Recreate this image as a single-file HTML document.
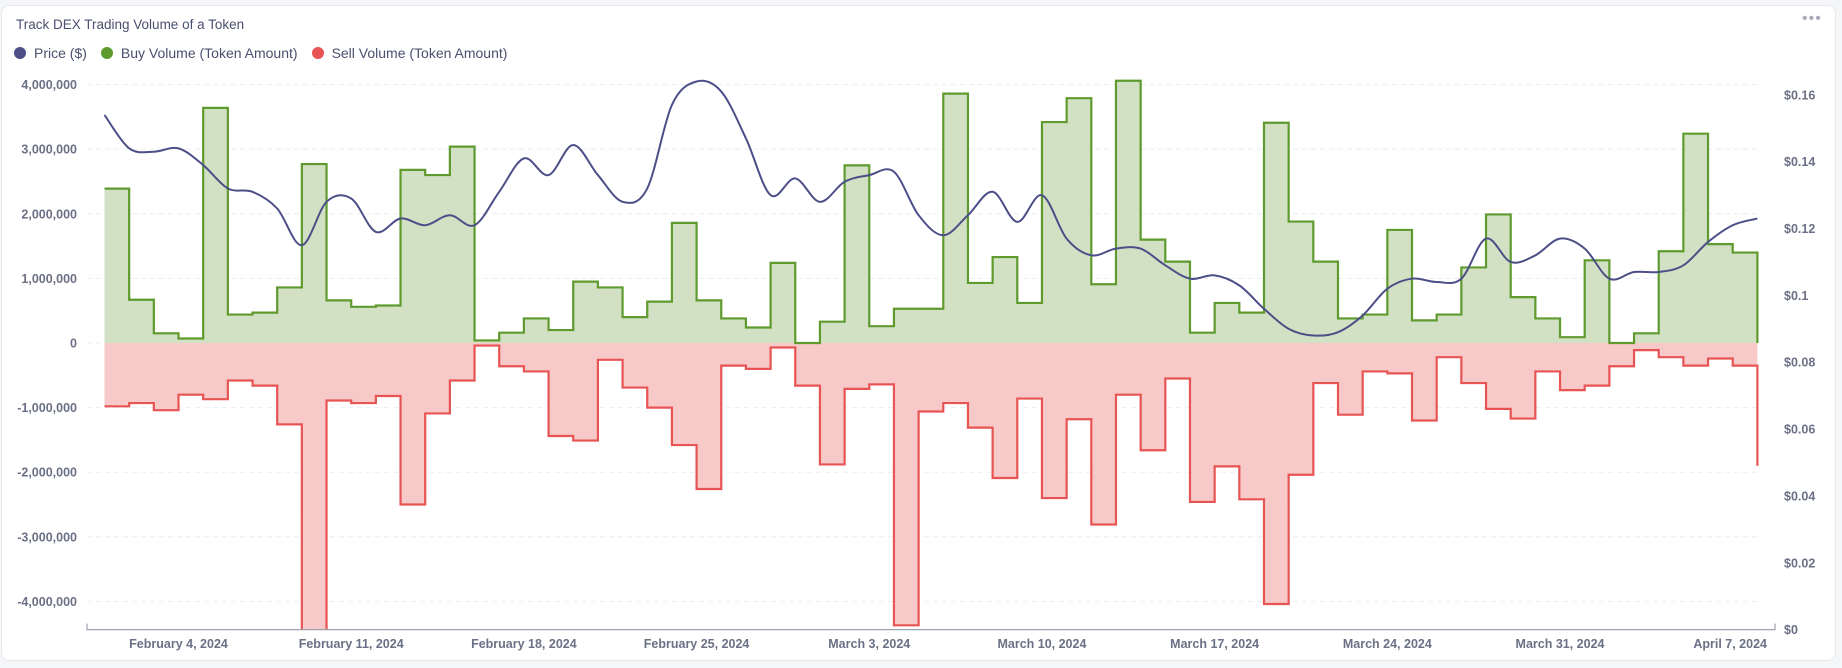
<!DOCTYPE html>
<html><head><meta charset="utf-8"><style>
html,body{margin:0;padding:0;background:#f5f6f8;}
body{width:1842px;height:668px;overflow:hidden;font-family:"Liberation Sans",sans-serif;}
.card{position:absolute;left:1px;top:5px;width:1833px;height:654px;background:#fff;border:1px solid #e6e8ec;border-radius:8px;}
.title{position:absolute;left:16px;top:17px;font-size:13.5px;color:#4a4f6e;}
.legend{position:absolute;left:14px;top:45px;font-size:14px;color:#4a4f6e;display:flex;gap:14px;}
.legend span{display:flex;align-items:center;}
.legend i{display:inline-block;width:12px;height:12px;border-radius:50%;margin-right:8px;}
.dots{position:absolute;left:1802px;top:10px;color:#a9adb9;font-size:16px;letter-spacing:1px;}
svg{position:absolute;left:0;top:0;}
</style></head><body>
<div class="card"></div>
<div class="title">Track DEX Trading Volume of a Token</div>
<div class="legend">
<span><i style="background:#4c4f87"></i>Price ($)</span>
<span><i style="background:#5f9a2f"></i>Buy Volume (Token Amount)</span>
<span><i style="background:#e85454"></i>Sell Volume (Token Amount)</span>
</div>
<div class="dots">•••</div>
<svg id="chart" width="1842" height="668"></svg>
<script>
const buyVolume=[2.39,0.67,0.15,0.07,3.64,0.44,0.47,0.86,2.77,0.66,0.56,0.58,2.68,2.60,3.04,0.04,0.16,0.38,0.20,0.95,0.86,0.40,0.64,1.86,0.66,0.38,0.24,1.24,0,0.33,2.75,0.26,0.53,0.53,3.86,0.93,1.33,0.62,3.42,3.79,0.91,4.06,1.60,1.26,0.16,0.62,0.47,3.41,1.88,1.26,0.38,0.44,1.75,0.35,0.44,1.17,1.99,0.71,0.38,0.09,1.28,0,0.15,1.42,3.24,1.53,1.40,0];
const sellVolume=[-0.98,-0.93,-1.04,-0.80,-0.87,-0.58,-0.66,-1.26,-4.6,-0.89,-0.93,-0.82,-2.50,-1.09,-0.58,-0.04,-0.36,-0.44,-1.44,-1.51,-0.26,-0.69,-1.00,-1.58,-2.26,-0.35,-0.40,-0.07,-0.66,-1.88,-0.71,-0.64,-4.37,-1.06,-0.93,-1.31,-2.09,-0.86,-2.40,-1.18,-2.81,-0.80,-1.66,-0.55,-2.46,-1.91,-2.42,-4.04,-2.04,-0.62,-1.11,-0.44,-0.47,-1.20,-0.22,-0.62,-1.02,-1.17,-0.44,-0.73,-0.66,-0.36,-0.11,-0.22,-0.35,-0.24,-0.35,-1.9];
const price=[0.154,0.144,0.143,0.144,0.139,0.132,0.131,0.126,0.115,0.128,0.129,0.119,0.123,0.121,0.124,0.121,0.131,0.141,0.136,0.145,0.136,0.128,0.132,0.157,0.164,0.161,0.147,0.130,0.135,0.128,0.134,0.136,0.137,0.124,0.118,0.124,0.131,0.122,0.130,0.117,0.112,0.114,0.114,0.109,0.105,0.106,0.103,0.096,0.090,0.088,0.089,0.094,0.102,0.105,0.104,0.105,0.117,0.110,0.112,0.117,0.114,0.105,0.107,0.107,0.109,0.116,0.121,0.123];
const leftTicks=[4,3,2,1,0,-1,-2,-3,-4];
const leftTickLabels=["4,000,000","3,000,000","2,000,000","1,000,000","0","-1,000,000","-2,000,000","-3,000,000","-4,000,000"];
const rightTicks=[0,0.02,0.04,0.06,0.08,0.1,0.12,0.14,0.16];
const rightTickLabels=["$0","$0.02","$0.04","$0.06","$0.08","$0.1","$0.12","$0.14","$0.16"];
const xTickIdx=[3,10,17,24,31,38,45,52,59,66];
const xTickLabels=["February 4, 2024","February 11, 2024","February 18, 2024","February 25, 2024","March 3, 2024","March 10, 2024","March 17, 2024","March 24, 2024","March 31, 2024","April 7, 2024"];

const NS="http://www.w3.org/2000/svg";
const svg=document.getElementById('chart');
const PT=62,PB=629.6,PL=87,PR=1760;
const x=i=>104.5+24.67*i;
const yL=v=>343-64.6*v;
const yR=p=>629.6-p/0.02*66.84;
function mk(tag,attrs,parent){const e=document.createElementNS(NS,tag);for(const k in attrs)e.setAttribute(k,attrs[k]);(parent||svg).appendChild(e);return e;}
const defs=mk('defs',{});const cp=mk('clipPath',{id:'clip'},defs);mk('rect',{x:PL,y:PT,width:PR-PL,height:PB-PT},cp);

leftTicks.forEach((v,k)=>{
 const g=mk('line',{x1:PL,x2:PR,y1:yL(v),y2:yL(v),stroke:'#eceef1','stroke-dasharray':'5,4'});
 
 
 const t=mk('text',{x:77,y:yL(v)+4.5,'text-anchor':'end','font-size':'12.5','font-weight':'bold',fill:'#6c7086'});t.textContent=leftTickLabels[k];
 
 
});
rightTicks.forEach((v,k)=>{
 const t=mk('text',{x:1784,y:yR(v)+4.5,'font-size':'12.5','font-weight':'bold',fill:'#6c7086'});t.textContent=rightTickLabels[k];
 
 
});

function stepPath(arr){
 let d='M'+x(0)+','+yL(0);
 for(let i=0;i<arr.length-1;i++){d+='L'+x(i)+','+yL(arr[i])+'L'+x(i+1)+','+yL(arr[i]);}
 return d;
}
function stepLine(arr){
 let d='M'+x(0)+','+yL(arr[0]);
 for(let i=0;i<arr.length-1;i++){d+='L'+x(i+1)+','+yL(arr[i])+'L'+x(i+1)+','+yL(arr[i+1]);}
 return d;
}
const g=mk('g',{'clip-path':'url(#clip)'});
const n=buyVolume.length-1;
const ba=mk('path',{d:stepPath(buyVolume)+'L'+x(n)+','+yL(0)+'Z',fill:'#d2e1c4'},g);


const sa=mk('path',{d:stepPath(sellVolume)+'L'+x(n)+','+yL(0)+'Z',fill:'#f7c9c9'},g);


const bl=mk('path',{d:stepLine(buyVolume),fill:'none',stroke:'#5f9a2f','stroke-width':2.2},g);


const sl=mk('path',{d:stepLine(sellVolume),fill:'none',stroke:'#e85454','stroke-width':2.2},g);



const pts=price.map((p,i)=>[x(i),yR(p)]);
let d='M'+pts[0][0]+','+pts[0][1];
for(let i=0;i<pts.length-1;i++){
 const p0=pts[Math.max(0,i-1)],p1=pts[i],p2=pts[i+1],p3=pts[Math.min(pts.length-1,i+2)];
 const c1=[p1[0]+(p2[0]-p0[0])/6,p1[1]+(p2[1]-p0[1])/6],c2=[p2[0]-(p3[0]-p1[0])/6,p2[1]-(p3[1]-p1[1])/6];
 d+='C'+c1+' '+c2+' '+p2;
}
const pl=mk('path',{d:d,fill:'none',stroke:'#4c4f87','stroke-width':2},g);



const ax=mk('path',{d:'M'+PL+','+(PB-6)+'V'+PB+'H1775V'+(PB-6),fill:'none',stroke:'#9fa3b0','stroke-width':1.2});


xTickIdx.forEach((idx,k)=>{
 const last=k===xTickIdx.length-1;
 const t=mk('text',{x:last?1767:x(idx),y:648,'text-anchor':last?'end':'middle','font-size':'12.5','font-weight':'bold',fill:'#6c7086'});
 t.textContent=xTickLabels[k];
 
 
});
</script>
</body></html>
